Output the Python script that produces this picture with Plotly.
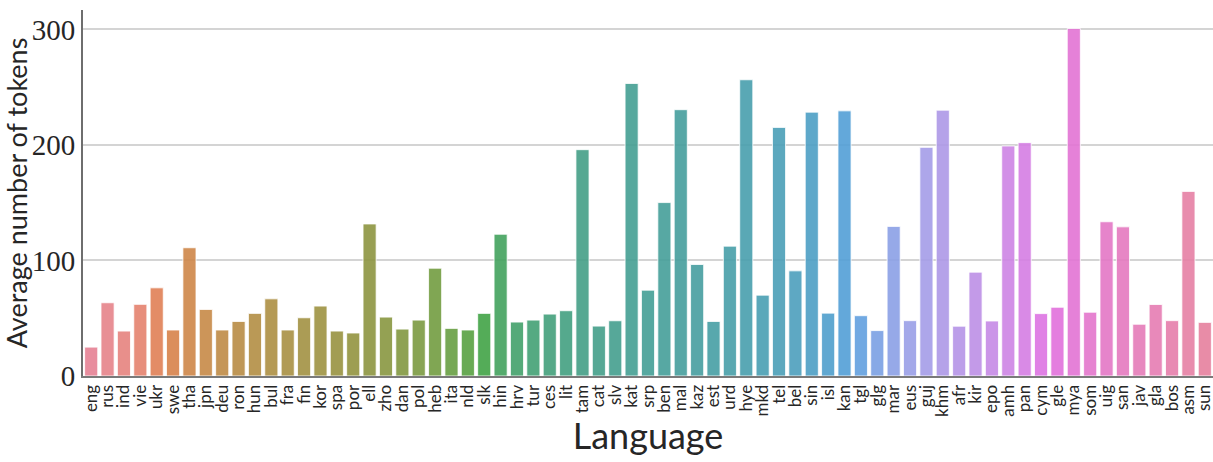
import math
import colorsys
import plotly.graph_objects as go

languages = ["eng", "rus", "ind", "vie", "ukr", "swe", "tha", "jpn", "deu", "ron",
             "hun", "bul", "fra", "fin", "kor", "spa", "por", "ell", "zho", "dan",
             "pol", "heb", "ita", "nld", "slk", "hin", "hrv", "tur", "ces", "lit",
             "tam", "cat", "slv", "kat", "srp", "ben", "mal", "kaz", "est", "urd",
             "hye", "mkd", "tel", "bel", "sin", "isl", "kan", "tgl", "glg", "mar",
             "eus", "guj", "khm", "afr", "kir", "epo", "amh", "pan", "cym", "gle",
             "mya", "som", "uig", "san", "jav", "gla", "bos", "asm", "sun"]
avg_tokens = [25, 63.4, 38.9, 62, 76.3, 39.8, 111, 57.6, 39.8, 47.2,
              54.2, 66.8, 39.8, 50.4, 60.5, 38.9, 37.2, 131.6, 51, 40.6,
              48.4, 93.3, 41.2, 39.8, 54.2, 122.7, 46.7, 48.4, 53.6, 56.5,
              195.9, 43.2, 47.8, 253.2, 74.3, 150.1, 230.5, 96.5, 47.2, 112.4,
              256.4, 70, 215.2, 91, 228.4, 54.4, 229.5, 52.2, 39.3, 129.5,
              47.9, 197.9, 230.1, 43.1, 89.9, 47.6, 199.1, 202.0, 54.0, 59.5,
              300.8, 55.2, 133.5, 129.1, 44.8, 61.9, 47.9, 159.8, 46.4]
y_ticks = [0, 100, 200, 300]

# --- seaborn-style husl palette (h=.01, s=.9, l=.65) desaturated by 0.75 ---
_M = [[3.2406, -1.5372, -0.4986], [-0.9689, 1.8758, 0.0415], [0.0557, -0.2040, 1.0570]]
_refU, _refV = 0.19784, 0.46834


def _max_chroma(L, H):
    hrad = math.radians(H)
    sinH, cosH = math.sin(hrad), math.cos(hrad)
    sub1 = ((L + 16) ** 3) / 1560896.0
    sub2 = sub1 if sub1 > 0.008856 else (L / 903.3)
    result = float("inf")
    for m1, m2, m3 in _M:
        top = (0.99915 * m1 + 1.05122 * m2 + 1.14460 * m3) * sub2
        rbottom = 0.86330 * m3 - 0.17266 * m2
        lbottom = 0.12949 * m3 - 0.38848 * m1
        bottom = (rbottom * sinH + lbottom * cosH) * sub2
        for t in (0.0, 1.0):
            C = L * (top - 1.05122 * t) / (bottom + 0.17266 * sinH * t)
            if 0.0 < C < result:
                result = C
    return result


def _from_linear(c):
    return 12.92 * c if c <= 0.0031308 else 1.055 * c ** (1 / 2.4) - 0.055


def husl_to_rgb(H, S, L):
    C = _max_chroma(L, H) / 100.0 * S
    U = math.cos(math.radians(H)) * C
    V = math.sin(math.radians(H)) * C
    t = (L + 16.0) / 116.0
    Y = t ** 3 if t ** 3 > 0.008856 else (116.0 * t - 16.0) / 903.3
    varU = U / (13.0 * L) + _refU
    varV = V / (13.0 * L) + _refV
    X = 0.0 - (9.0 * Y * varU) / ((varU - 4.0) * varV - varU * varV)
    Z = (9.0 * Y - (15.0 * varV * Y) - (varV * X)) / (3.0 * varV)
    rgb = [_from_linear(r[0] * X + r[1] * Y + r[2] * Z) for r in _M]
    return [min(max(v, 0.0), 1.0) for v in rgb]


def palette(n):
    cols = []
    for i in range(n):
        h = ((i / n) + 0.01) % 1 * 359
        r, g, b = husl_to_rgb(h, 0.9 * 99, 0.65 * 99)
        hh, ll, ss = colorsys.rgb_to_hls(r, g, b)
        r, g, b = colorsys.hls_to_rgb(hh, ll, ss * 0.75)
        cols.append("rgba(%d,%d,%d,0.9)" % (round(r * 255), round(g * 255), round(b * 255)))
    return cols


colors = palette(len(languages))

fig = go.Figure(go.Bar(
    x=languages, y=avg_tokens,
    marker=dict(color=colors, line=dict(color="rgba(255,255,255,0.8)", width=1)),
))

fig.update_layout(
    width=1213, height=462,
    margin=dict(l=83, r=0, t=10, b=86),
    paper_bgcolor="white", plot_bgcolor="white",
    bargap=0.2,
    showlegend=False,
    xaxis=dict(
        range=[-0.5, len(languages) - 0.5],
        tickmode="array",
        tickvals=languages,
        ticktext=languages,
        tickangle=-90,
        tickfont=dict(family="Lato", size=17, color="#262626"),
        showgrid=False,
        showline=True, linecolor="#7a7a7a", linewidth=2,
        ticks="", ticklen=0,
        title=dict(text="Language", font=dict(family="Lato", size=36, color="#262626"), standoff=2),
        automargin=False,
    ),
    yaxis=dict(
        range=[0, 316.8],
        tickvals=y_ticks,
        ticktext=[str(v) for v in y_ticks],
        tickfont=dict(family="Liberation Serif", size=29, color="#262626"),
        showgrid=True, gridcolor="#d4d4d4", gridwidth=1.5,
        zeroline=False,
        showline=True, linecolor="#6e6e6e", linewidth=2,
        ticks="", ticklen=0,
        title=dict(text="Average number of tokens", font=dict(family="Lato", size=27, color="#262626"), standoff=2),
        automargin=False,
    ),
)

fig.write_html("out.html", config={"displayModeBar": False},
               post_script="document.body.style.margin='0';document.body.style.overflow='hidden';")
